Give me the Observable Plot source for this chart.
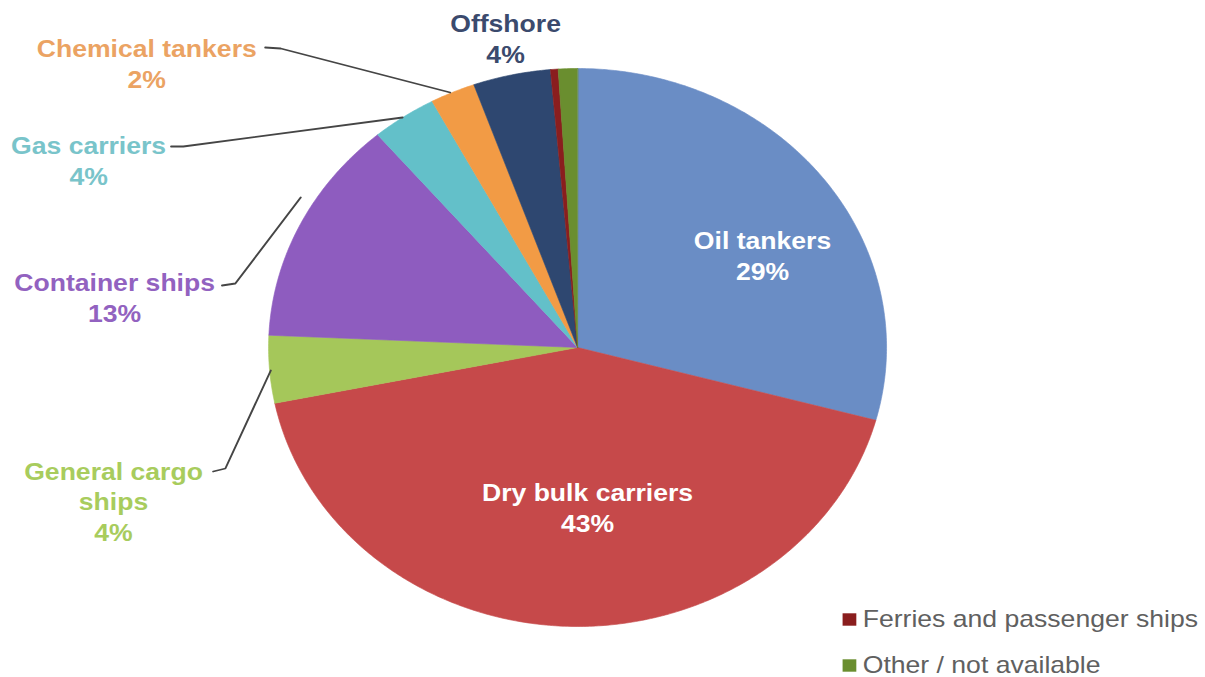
<!DOCTYPE html>
<html><head><meta charset="utf-8">
<script src="https://cdn.jsdelivr.net/npm/d3@7"></script>
<script src="https://cdn.jsdelivr.net/npm/@observablehq/plot@0.6"></script>
<style>
html,body{margin:0;padding:0;background:#fff;overflow:hidden}
#chart svg{transform:scaleX(1.1075);transform-origin:0 0;display:block}
</style></head><body><div id="chart"></div>
<script>
// ---- data ----
const categories = ["Oil tankers","Dry bulk carriers","General cargo ships","Container ships","Gas carriers","Chemical tankers","Offshore","Ferries and passenger ships","Other / not available"];
const shares = [29.2, 42.6, 3.9, 13.1, 3.4, 2.35, 4.05, 0.4, 1.0];
const pctLabels = ["29%","43%","4%","13%","4%","2%","4%","",""];
const labelNames = ["Oil tankers","Dry bulk carriers","General cargo\nships","Container ships","Gas carriers","Chemical tankers","Offshore","",""];
const sliceColors = ["#6A8DC5","#C6494A","#A5C75A","#8E5CBF","#63C0C9","#F29B45","#2E4770","#8A1E1E","#6A8E2F"];
const textColors = ["#ffffff","#ffffff","#A8CC5D","#9262C0","#79C4CA","#EBA363","#3B4A6D","",""];
const legendItems = ["Ferries and passenger ships","Other / not available"];

// ---- layout ----
const W = 1088, H = 677;
const pie = {cx: 521, cy: 347, r: 279};
const labelPos = [[688,254],[530,506.5],[102,500],[103,296.5],[79.5,159.5],[132,62],[456,37]];
const leaders = {
  "Chemical tankers": [[239,47],[253,48],[406,92]],
  "Gas carriers": [[154,146],[165,146],[363,117]],
  "Container ships": [[200,285],[212,283],[271,197]],
  "General cargo ships": [[192,471],[203,468],[244,370]]
};
const legendPos = {x: 766.5, y0: 619, dy: 46};

// ---- build geometry from data ----
const slicePts = [];
let cum = 0;
categories.forEach((c, i) => {
  const a0 = cum / 100 * 2 * Math.PI; cum += shares[i];
  const a1 = cum / 100 * 2 * Math.PI;
  const n = Math.max(2, Math.ceil((a1 - a0) / 0.01));
  slicePts.push({name: c, color: sliceColors[i], x: pie.cx, y: pie.cy});
  for (let k = 0; k <= n; k++) {
    const a = a0 + (a1 - a0) * k / n;
    slicePts.push({name: c, color: sliceColors[i], x: pie.cx + pie.r * Math.sin(a), y: pie.cy - pie.r * Math.cos(a)});
  }
});
const labels = labelPos.map((p, i) => ({x: p[0], y: p[1], text: labelNames[i] + "\n" + pctLabels[i], color: textColors[i]}));
const leaderPts = Object.entries(leaders).flatMap(([name, pts]) => pts.map(([x, y]) => ({name, x, y})));
const legend = legendItems.map((name, i) => ({name, color: sliceColors[categories.indexOf(name)], x: legendPos.x, y: legendPos.y0 + i * legendPos.dy}));

const chart = Plot.plot({
  width: W, height: H,
  margin: 0,
  x: {domain: [0, W], range: [0, W], axis: null},
  y: {domain: [0, H], range: [0, H], axis: null},
  color: {type: "identity"},
  style: {fontFamily: "'Liberation Sans', Arial, Helvetica, sans-serif", background: "#fff"},
  marks: [
    Plot.line(slicePts, {x: "x", y: "y", z: "name", fill: "color", stroke: "color", strokeWidth: 0.6, curve: "linear-closed"}),
    Plot.line(leaderPts, {x: "x", y: "y", z: "name", stroke: "#454545", strokeWidth: 1.8}),
    Plot.text(labels, {x: "x", y: "y", text: "text", fill: "color", fontSize: 24, fontWeight: "bold", lineHeight: 1.28}),
    Plot.dot(legend, {x: "x", y: "y", fill: "color", symbol: "square", r: 7}),
    Plot.text(legend, {x: d => d.x + 12, y: "y", text: "name", fill: "#606060", fontSize: 24, textAnchor: "start"})
  ]
});
document.getElementById("chart").appendChild(chart);
</script>
</body></html>
